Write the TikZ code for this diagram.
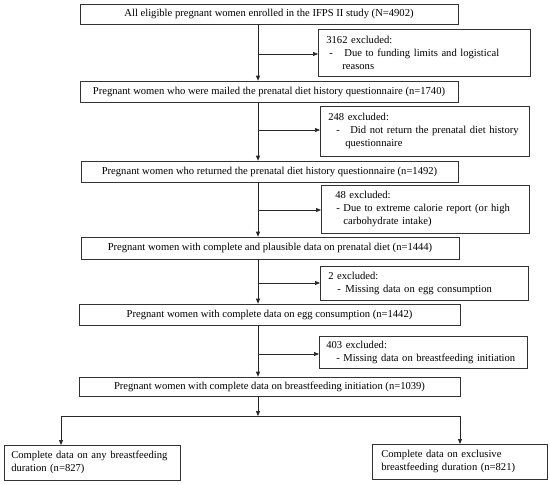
\documentclass[tikz,border=0pt]{standalone}
\usepackage{fontspec}
\setmainfont{Liberation Serif}
\usetikzlibrary{arrows.meta,calc}
\newcommand{\dashline}[3]{\makebox[#2pt][l]{\hspace*{#1pt}-}\mbox{#3}}
\begin{document}
\begin{tikzpicture}[x=1pt,y=-1pt,
  box/.style={draw=black!80,line width=0.7pt,inner ysep=0pt,font=\fontsize{10.6}{13}\selectfont},
  mainbox/.style={box,align=center},
  exbox/.style={box,align=left,anchor=north west},
  conn/.style={line width=0.7pt,draw=black!85},
  arr/.style={conn,-{Triangle[length=5pt,width=4pt]}}]
\useasboundingbox (0,0) rectangle (550,485);
% main boxes
\node[mainbox,minimum width=378pt,minimum height=20pt] (b1) at (269,14) {All eligible pregnant women enrolled in the IFPS II study (N=4902)};
\node[mainbox,minimum width=378pt,minimum height=21pt] (b2) at (269,91.5) {Pregnant women who were mailed the prenatal diet history questionnaire (n=1740)};
\node[mainbox,minimum width=377pt,minimum height=21pt] (b3) at (269.5,171.5) {Pregnant women who returned the prenatal diet history questionnaire (n=1492)};
\node[mainbox,minimum width=378pt,minimum height=22pt] (b4) at (270,248) {Pregnant women with complete and plausible data on prenatal diet (n=1444)};
\node[mainbox,minimum width=381pt,minimum height=21pt] (b5) at (269.5,314.5) {Pregnant women with complete data on egg consumption (n=1442)};
\node[mainbox,minimum width=381pt,minimum height=19pt] (b6) at (269.5,386.5) {Pregnant women with complete data on breastfeeding initiation (n=1039)};
% exclusion boxes
\node[exbox,inner xsep=8pt,text width=196pt,minimum height=47pt] (e1) at (318,29)
 {3162 excluded:\\\dashline{3}{18}{Due to funding limits and logistical}\\\hspace*{16pt}reasons};
\node[exbox,inner xsep=8pt,text width=193pt,minimum height=50pt] (e2) at (320,106)
 {248 excluded:\\\dashline{8}{22}{Did not return the prenatal diet history}\\\hspace*{17pt}questionnaire};
\node[exbox,inner xsep=8pt,text width=192pt,minimum height=48pt] (e3) at (321,185)
 {\hspace*{6pt}48 excluded:\\\dashline{7}{14}{Due to extreme calorie report (or high}\\\hspace*{14pt}carbohydrate intake)};
\node[exbox,inner xsep=8pt,text width=192pt,minimum height=34pt] (e4) at (320,266)
 {2 excluded:\\\dashline{9}{17}{Missing data on egg consumption}};
\node[exbox,inner xsep=7pt,text width=194pt,minimum height=32pt] (e5) at (319,336)
 {403 excluded:\\\dashline{10}{17}{Missing data on breastfeeding initiation}};
% bottom boxes
\node[exbox,inner xsep=7pt,text width=162pt,minimum height=35pt] (l1) at (4,445)
 {Complete data on any breastfeeding\\duration (n=827)};
\node[exbox,inner xsep=9pt,text width=157pt,minimum height=35pt] (r1) at (372,444)
 {Complete data on exclusive\\breastfeeding duration (n=821)};
% branch points
\coordinate (t1) at (258,54);
\coordinate (t2) at (258,130);
\coordinate (t3) at (258,210);
\coordinate (t4) at (258,283);
\coordinate (t5) at (258,354);
\coordinate (sM) at (258,416);
\coordinate (sL) at (61,416);
\coordinate (sR) at (460,416);
% connectors
\draw[arr] (b1.south -| t1) -- (b2.north -| t1);
\draw[arr] (t1) -- (e1.west |- t1);
\draw[arr] (b2.south -| t2) -- (b3.north -| t2);
\draw[arr] (t2) -- (e2.west |- t2);
\draw[arr] (b3.south -| t3) -- (b4.north -| t3);
\draw[arr] (t3) -- (e3.west |- t3);
\draw[arr] (b4.south -| t4) -- (b5.north -| t4);
\draw[arr] (t4) -- (e4.west |- t4);
\draw[arr] (b5.south -| t5) -- (b6.north -| t5);
\draw[arr] (t5) -- (e5.west |- t5);
\draw[arr] (b6.south -| sM) -- (sM);
\draw[conn] (sL) -- (sR);
\draw[arr] (sL) -- (l1.north -| sL);
\draw[arr] (sR) -- (r1.north -| sR);
\end{tikzpicture}
\end{document}
